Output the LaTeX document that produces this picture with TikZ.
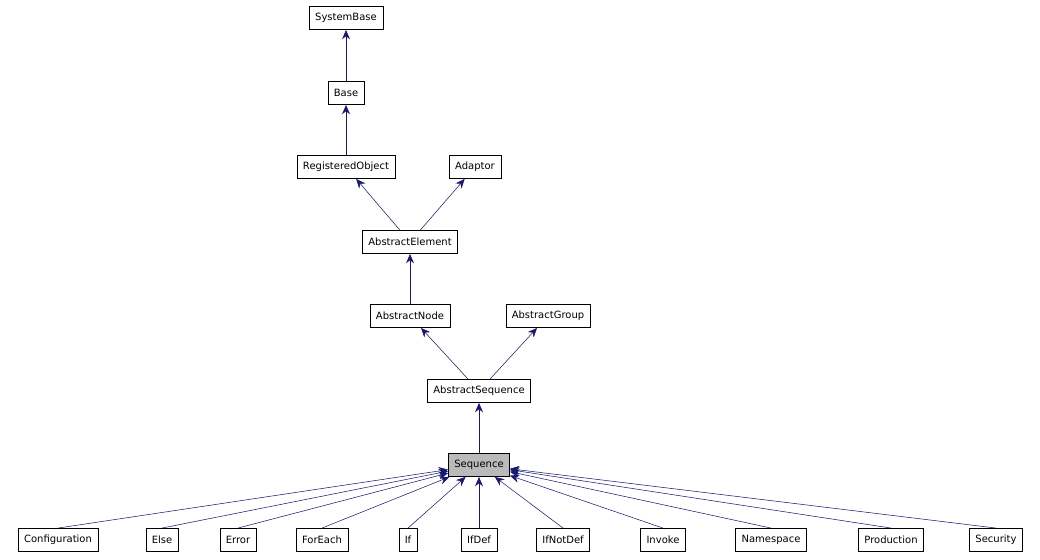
\documentclass[tikz,border=0pt]{standalone}
\usepackage{fontspec}
\setmainfont{DejaVu Sans}
\usetikzlibrary{arrows.meta}
\definecolor{edgeblue}{HTML}{191970}
\begin{document}
\begin{tikzpicture}[x=0.75pt,y=-0.75pt]
    \tikzset{
        cls/.style={draw=black, fill=white, font=\fontsize{7.5}{9}\selectfont,
            minimum height=17.5pt, inner xsep=4.5pt, inner ysep=0pt},
        inh/.style={draw=edgeblue, {Stealth[length=7pt,width=6pt]}-},
    }
    \useasboundingbox (0,0) rectangle (1040,560);

    % Classes
    \node[cls] (sysbase)  at (346, 18) {SystemBase};
    \node[cls] (base)     at (346, 93) {Base};
    \node[cls] (regobj)   at (346,167) {RegisteredObject};
    \node[cls] (adaptor)  at (475,167) {Adaptor};
    \node[cls] (abselem)  at (410,242) {AbstractElement};
    \node[cls] (absnode)  at (410,316) {AbstractNode};
    \node[cls] (absgroup) at (548,316) {AbstractGroup};
    \node[cls] (absseq)   at (479,391) {AbstractSequence};
    \node[cls, fill=black!27] (seq) at (479,465) {Sequence};

    % Subclasses
    \node[cls] (config)    at ( 58,540) {Configuration};
    \node[cls] (else)      at (162,540) {Else};
    \node[cls] (error)     at (238,540) {Error};
    \node[cls] (foreach)   at (322,540) {ForEach};
    \node[cls] (if)        at (408,540) {If};
    \node[cls] (ifdef)     at (479,540) {IfDef};
    \node[cls] (ifnotdef)  at (563,540) {IfNotDef};
    \node[cls] (invoke)    at (663,540) {Invoke};
    \node[cls] (namespace) at (771,540) {Namespace};
    \node[cls] (product)   at (891,540) {Production};
    \node[cls] (security)  at (996,540) {Security};

    % Inheritance
    \draw[inh] (sysbase) -- (base);
    \draw[inh] (base) -- (regobj);
    \draw[inh] (regobj) -- (abselem);
    \draw[inh] (adaptor) -- (abselem);
    \draw[inh] (abselem) -- (absnode);
    \draw[inh] (absnode) -- (absseq);
    \draw[inh] (absgroup) -- (absseq);
    \draw[inh] (absseq) -- (seq);
    \foreach \c in {config,else,error,foreach,if,ifdef,ifnotdef,invoke,namespace,product,security}
        \draw[inh] (seq) -- (\c.north);
\end{tikzpicture}
\end{document}
